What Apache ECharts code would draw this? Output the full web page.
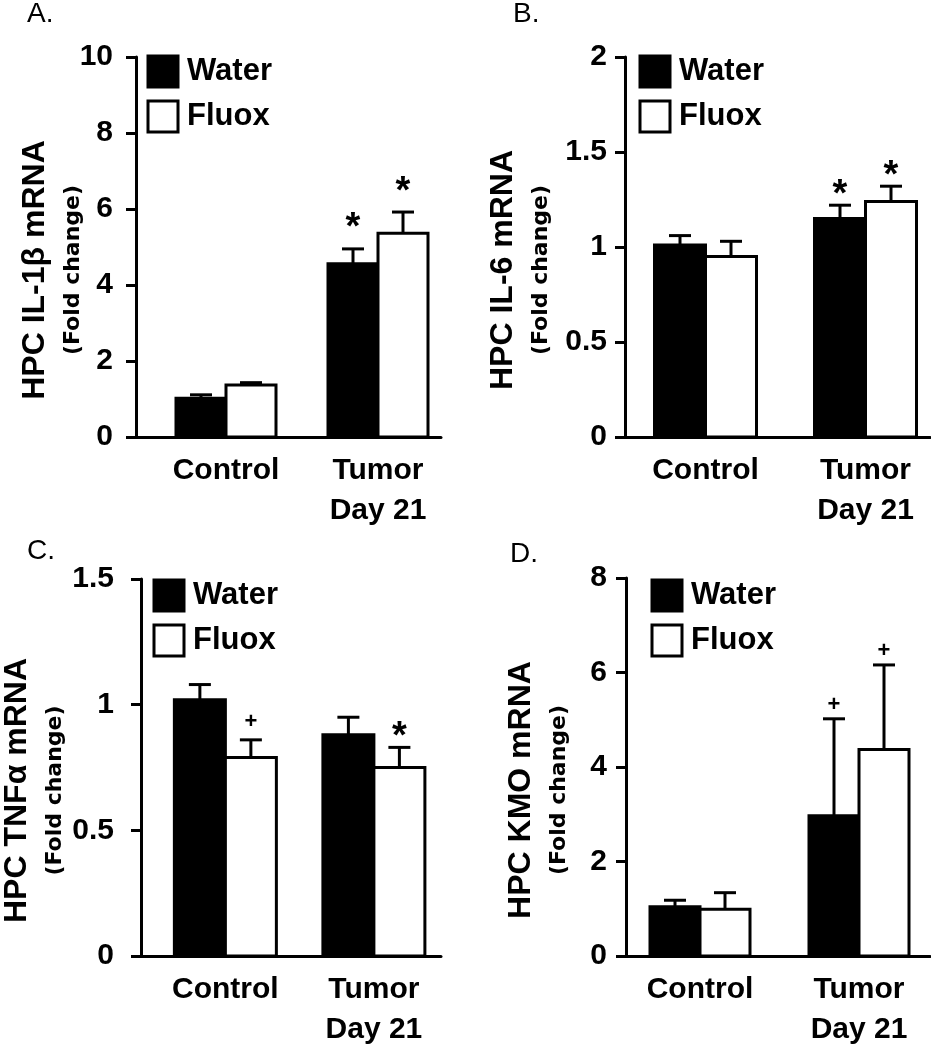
<!DOCTYPE html>
<html>
<head>
<meta charset="utf-8">
<script src="https://cdn.jsdelivr.net/npm/echarts@6/dist/echarts.min.js"></script>
<style>
  html, body { margin: 0; padding: 0; background: #fff; }
  #chart { width: 931px; height: 1050px; }
</style>
</head>
<body>
<div id="chart"></div>
<script>
// categories and groups
const categories = ['Control', 'Tumor\nDay 21'];
const seriesNames = ['Water', 'Fluox'];
const panelLetters = ['A.', 'B.', 'C.', 'D.'];
const yTitles = ['HPC IL-1β mRNA', 'HPC IL-6 mRNA', 'HPC TNFα mRNA', 'HPC KMO mRNA'];
const yMax = [10, 2, 1.5, 8];
const yStep = [2, 0.5, 0.5, 2];

// A. IL-1beta
const il1bWater = [1.02, 4.56];
const il1bWaterErr = [0.09, 0.39];
const il1bFluox = [1.37, 5.36];
const il1bFluoxErr = [0.06, 0.56];
const il1bWaterMark = ['', '*'];
const il1bFluoxMark = ['', '*'];

// B. IL-6
const il6Water = [1.01, 1.15];
const il6WaterErr = [0.05, 0.07];
const il6Fluox = [0.95, 1.24];
const il6FluoxErr = [0.08, 0.08];
const il6WaterMark = ['', '*'];
const il6FluoxMark = ['', '*'];

// C. TNFalpha
const tnfWater = [1.02, 0.88];
const tnfWaterErr = [0.06, 0.07];
const tnfFluox = [0.79, 0.75];
const tnfFluoxErr = [0.07, 0.08];
const tnfWaterMark = ['', ''];
const tnfFluoxMark = ['+', '*'];

// D. KMO
const kmoWater = [1.04, 2.97];
const kmoWaterErr = [0.14, 2.05];
const kmoFluox = [0.99, 4.37];
const kmoFluoxErr = [0.35, 1.79];
const kmoWaterMark = ['', '+'];
const kmoFluoxMark = ['', '+'];

const values = [[il1bWater, il1bFluox], [il6Water, il6Fluox], [tnfWater, tnfFluox], [kmoWater, kmoFluox]];
const errors = [[il1bWaterErr, il1bFluoxErr], [il6WaterErr, il6FluoxErr], [tnfWaterErr, tnfFluoxErr], [kmoWaterErr, kmoFluoxErr]];
const markers = [[il1bWaterMark, il1bFluoxMark], [il6WaterMark, il6FluoxMark], [tnfWaterMark, tnfFluoxMark], [kmoWaterMark, kmoFluoxMark]];

// layout of each panel (pixels)
const panels = [
  { ax: 136, top: 57, bottom: 437, right: 441, c0: 226, c1: 378, bw: 50, gap: 28, lblMargin: 23, nameGap: 44, legend: [146.5, 54.5], letter: [27, 0] },
  { ax: 625, top: 57, bottom: 437, right: 930, c0: 705.5, c1: 865.5, bw: 51, gap: 18, lblMargin: 18, nameGap: 65, legend: [638.5, 54.5], letter: [513, 0] },
  { ax: 137, top: 579, bottom: 958, right: 441, c0: 222.5, c1: 373, bw: 51, gap: 18, lblMargin: 27, nameGap: 67, legend: [152.5, 578.5], letter: [27, 537] },
  { ax: 626, top: 578, bottom: 958, right: 930, c0: 700, c1: 859, bw: 50, gap: 14, lblMargin: 19, nameGap: 48, legend: [650.5, 578.5], letter: [510, 540] }
];

const FONT = 'Liberation Sans';
const black = '#000';

function makeSeries(p, k) {
  const cfg = panels[p];
  const vals = values[p][k];
  const errs = errors[p][k];
  const marks = markers[p][k];
  const fill = k ? '#fff' : black;
  return {
    type: 'custom',
    name: seriesNames[k],
    coordinateSystem: 'cartesian2d',
    xAxisIndex: p,
    yAxisIndex: p,
    itemStyle: { color: fill, borderColor: black, borderWidth: 3 },
    encode: { x: 0, y: 1 },
    data: vals.map((v, i) => [i, v, errs[i]]),
    renderItem: function (params, api) {
      const i = api.value(0);
      const v = api.value(1);
      const e = api.value(2);
      const base = api.coord([i, 0]);
      const top = api.coord([i, v]);
      const cap = api.coord([i, v + e]);
      const x0 = base[0] + (k - 1) * cfg.bw;
      const mid = x0 + cfg.bw / 2;
      const children = [
        { type: 'rect', shape: { x: x0, y: top[1], width: cfg.bw, height: base[1] - top[1] },
          style: { fill: fill, stroke: black, lineWidth: 3 } },
        { type: 'line', shape: { x1: mid, y1: top[1], x2: mid, y2: cap[1] },
          style: { stroke: black, lineWidth: 3 } },
        { type: 'line', shape: { x1: mid - 11, y1: cap[1], x2: mid + 11, y2: cap[1] },
          style: { stroke: black, lineWidth: 3 } }
      ];
      const m = marks[params.dataIndex];
      if (m) {
        const star = m === '*';
        children.push({
          type: 'text',
          style: {
            text: m, x: mid, y: cap[1] - cfg.gap + (star ? 8 : 0),
            align: 'center', verticalAlign: 'middle',
            fontSize: star ? 38 : 22, fontWeight: 'bold', fontFamily: FONT, fill: black
          }
        });
      }
      return { type: 'group', children: children };
    }
  };
}

const grids = [], xAxes = [], yAxes = [], series = [], legends = [], titles = [];

panels.forEach(function (cfg, p) {
  const span = cfg.c1 - cfg.c0;
  grids.push({ left: cfg.ax, top: cfg.top, width: cfg.right - cfg.ax, height: cfg.bottom - cfg.top });
  xAxes.push({
    gridIndex: p,
    type: 'value',
    min: (cfg.ax - cfg.c0) / span,
    max: (cfg.right - cfg.c0) / span,
    axisLine: { show: true, onZero: false, lineStyle: { color: black, width: 3 } },
    axisTick: { show: false },
    splitLine: { show: false },
    axisLabel: {
      customValues: [0, 1],
      formatter: function (v) { return categories[Math.round(v)]; },
      margin: 14,
      color: black,
      fontFamily: FONT,
      fontWeight: 'bold',
      fontSize: 30,
      lineHeight: 40
    }
  });
  yAxes.push({
    gridIndex: p,
    type: 'value',
    min: 0,
    max: yMax[p],
    interval: yStep[p],
    name: '{t|' + yTitles[p] + '}\n{s|(Fold change)}',
    nameLocation: 'middle',
    nameRotate: 90,
    nameGap: cfg.nameGap,
    nameMoveOverlap: false,
    nameTextStyle: {
      padding: [0, 46, 0, 0],
      rich: {
        t: { fontFamily: FONT, fontWeight: 'bold', fontSize: 32, lineHeight: 38, color: black },
        s: { fontFamily: 'DejaVu Sans', fontWeight: 'bold', fontSize: 22, lineHeight: 38, color: black }
      }
    },
    axisLine: { show: true, onZero: false, lineStyle: { color: black, width: 3 } },
    axisTick: { show: true, length: 10, lineStyle: { color: black, width: 3 } },
    splitLine: { show: false },
    axisLabel: { margin: cfg.lblMargin, color: black, fontFamily: FONT, fontWeight: 'bold', fontSize: 30 }
  });
  series.push(makeSeries(p, 0), makeSeries(p, 1));
  legends.push({
    left: cfg.legend[0],
    top: cfg.legend[1],
    orient: 'vertical',
    padding: 0,
    itemWidth: 30,
    itemHeight: 31,
    itemGap: 11,
    icon: 'rect',
    selectedMode: false,
    textStyle: { color: black, fontFamily: FONT, fontWeight: 'bold', fontSize: 31, padding: [0, 0, 0, 4] },
    data: [
      { name: 'Water', itemStyle: { color: black, borderColor: black, borderWidth: 3 } },
      { name: 'Fluox', itemStyle: { color: '#fff', borderColor: black, borderWidth: 3 } }
    ]
  });
  titles.push({
    text: panelLetters[p],
    left: cfg.letter[0],
    top: cfg.letter[1],
    padding: 0,
    textStyle: { color: black, fontFamily: FONT, fontWeight: 'normal', fontSize: 28 }
  });
});

const chart = echarts.init(document.getElementById('chart'));
chart.setOption({
  backgroundColor: '#fff',
  animation: false,
  title: titles,
  legend: legends,
  grid: grids,
  xAxis: xAxes,
  yAxis: yAxes,
  series: series
});
</script>
</body>
</html>
